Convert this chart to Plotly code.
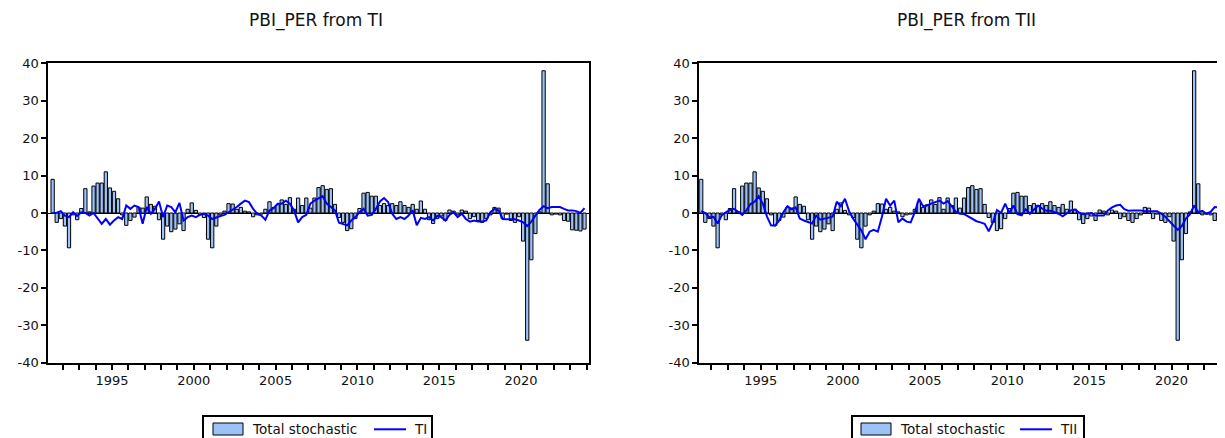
import plotly.graph_objects as go

# ---------------- data ----------------
start_year, start_q = 1991, 2
n_obs = 131
quarters = []
y, q = start_year, start_q
for _ in range(n_obs):
    quarters.append(f"{y}Q{q}")
    q += 1
    if q > 4:
        q = 1
        y += 1

total_stochastic = [
    9.0, -2.5, -1.5, -3.5, -9.3, -0.5, -1.8, 1.2, 6.5, 0.3,
    7.2, 8.0, 8.0, 11.0, 6.7, 5.8, 3.8, -0.5, -3.3, -2.0,
    -1.1, 1.5, 1.3, 4.3, 2.3, 1.8, -1.8, -7.0, -3.5, -5.0,
    -4.3, -2.9, -4.7, 1.0, 2.7, 0.7, -0.5, -1.2, -7.0, -9.3,
    -3.5, -0.5, 0.5, 2.5, 2.4, 1.0, 1.5, 0.5, 0.3, -1.0,
    -0.5, -0.3, 1.0, 3.0, 1.5, 2.2, 3.5, 2.3, 4.1, 1.0,
    4.0, 2.0, 4.0, 1.3, 4.0, 6.8, 7.3, 6.3, 6.5, 2.3,
    -1.2, -2.5, -4.7, -4.2, -1.5, 1.2, 5.3, 5.5, 4.5, 4.5,
    2.0, 2.5, 2.0, 2.5, 2.0, 3.0, 2.0, 1.5, 2.3, 1.0,
    3.2, 1.0, -1.8, -2.8, -1.5, -0.8, -2.0, 0.8, 0.5, -0.5,
    0.8, 0.5, -1.5, -1.0, -2.0, -2.5, -1.5, -0.5, 1.5, 1.3,
    -1.5, -0.3, -2.0, -2.5, -1.0, -7.5, -34.0, -12.5, -5.5, 0.3,
    38.0, 7.8, -0.5, -0.3, -0.5, -2.0, -2.2, -4.5, -4.6, -4.8,
    -4.3,
]

ti = [
    0.0, 0.1, 0.5, -0.7, -1.1, 0.2, -0.8, 0.2, 0.0, -0.7,
    0.0, -1.4, -2.9, -1.6, -3.1, -2.0, -1.1, -1.6, 2.0, 1.1,
    2.0, 1.6, -2.9, 1.6, -0.2, 1.1, 3.1, -1.1, 2.0, 1.6,
    0.2, 2.7, -2.0, -1.1, -0.7, -1.1, -0.5, -0.2, -0.7, -1.6,
    -1.1, -0.8, -0.5, 0.2, 0.8, 1.6, 2.5, 3.3, 2.9, 1.1,
    -0.2, -0.7, -1.8, 0.7, 1.3, 2.5, 2.5, 3.3, 2.5, 0.7,
    -2.5, -1.1, -0.5, 2.5, 3.3, 4.0, 4.5, 2.5, 1.6, 0.7,
    -2.6, -2.9, -3.3, -2.0, -1.1, 0.2, 1.1, -0.7, -0.5, 1.1,
    3.1, 4.0, 2.9, -0.2, -1.6, -1.1, -1.6, -0.7, 0.7, -3.3,
    -1.3, -1.6, -1.1, -2.0, -0.8, -1.1, -2.0, -0.5, 0.2, -1.1,
    -0.2, -1.6, -2.3, -2.0, -2.3, -2.3, -2.0, 0.2, 1.1, 0.7,
    -1.6, -1.7, -1.6, -1.7, -2.0, -2.5, -3.5, -2.3, -0.7, 0.8,
    1.8, 1.3, 1.6, 1.6, 1.6, 1.1, 0.7, 0.7, 0.5, 0.0,
    1.3,
]

tii = [
    0.5, 0.0, -1.2, -1.0, -2.8, -0.6, 0.2, 0.8, 1.1, 0.3,
    -0.5, 0.7, 2.4, 3.0, 4.5, 2.5, -0.9, -3.3, -3.4, -2.0,
    0.2, 1.8, 1.0, 1.5, -1.5, -2.0, -2.4, -2.8, -0.7, -1.8,
    -1.5, -1.3, -1.0, 3.0, 1.8, 3.8, 0.5, -1.5, -3.0, -4.7,
    -7.0, -5.0, -4.5, -5.0, -1.0, 3.8, 2.0, 3.3, -2.5, -1.5,
    -2.3, -2.5, 0.2, 3.8, 1.8, 2.0, 2.5, 2.9, 3.3, 2.5,
    3.2, 1.8, 0.3, -0.2, -0.3, -0.9, -1.5, -2.2, -2.5, -2.9,
    -4.9, -2.5, 0.8, 0.0, 2.5, 0.0, 2.0, -0.3, -0.6, 1.0,
    -0.2, 1.0, 2.0, 1.2, 0.6, 0.6, 0.2, -0.2, -0.9, 0.0,
    0.7, 0.9, 0.1, -0.3, -0.1, 0.0, -0.7, -0.7, -0.7, 0.7,
    1.5, 2.0, 2.2, 1.0, 0.6, 0.7, 0.8, 0.7, 0.5, 0.5,
    0.5, 0.5, -0.2, -1.0, -2.2, -3.5, -4.5, -3.5, -1.5, -0.3,
    2.0, 0.2, 0.6, -0.2, 0.3, 1.6, 1.6, 1.4, 0.8, 0.5,
    0.5,
]

titles = ["PBI_PER from TI", "PBI_PER from TII"]
line_names = ["TI", "TII"]
bar_name = "Total stochastic"
y_ticks = [-40, -30, -20, -10, 0, 10, 20, 30, 40]

# quarter labels -> numeric time (centre of the quarter)
def q_to_num(lbl):
    yr, qq = lbl.split("Q")
    return int(yr) + (int(qq) - 1) * 0.25 + 0.125

x_num = [q_to_num(s) for s in quarters]

# ---------------- figure ----------------
W, H = 1225, 438
OFF = 8  # page body margin in the rendered html
BAR_FILL = "#9CC2F7"
LINE_BLUE = "#0000FF"
FONT = "DejaVu Sans"
TXT = "#111111"

fig = go.Figure()

for k, (line_vals, lname) in enumerate([(ti, line_names[0]), (tii, line_names[1])]):
    xa = "x" if k == 0 else "x2"
    ya = "y" if k == 0 else "y2"
    fig.add_trace(go.Bar(
        x=x_num, y=total_stochastic, name=bar_name,
        xaxis=xa, yaxis=ya, showlegend=False,
        width=0.2,
        marker=dict(color=BAR_FILL, line=dict(color="#000000", width=1)),
    ))
    fig.add_trace(go.Scatter(
        x=x_num, y=line_vals, name=lname, mode="lines",
        xaxis=xa, yaxis=ya, showlegend=False,
        line=dict(color=LINE_BLUE, width=2),
    ))

def px_x(p):
    return (p - OFF) / W

def px_y(p):
    return 1 - (p - OFF) / H

y_dom = [px_y(362.7), px_y(63.3)]

common_x = dict(
    showgrid=False, zeroline=False,
    showline=True, linecolor="#000000", linewidth=2,
    ticks="outside", ticklen=5, tickwidth=2, tickcolor="#000000",
    tickmode="linear", tick0=1995, dtick=5,
    minor=dict(ticks="outside", ticklen=5, tickwidth=2, tickcolor="#000000",
               tickmode="linear", tick0=1991, dtick=1),
    tickfont=dict(family=FONT, size=13, color=TXT),
    fixedrange=True,
)
common_y = dict(
    showgrid=False,
    zeroline=True, zerolinecolor="#000000", zerolinewidth=1,
    showline=True, linecolor="#000000", linewidth=2,
    ticks="outside", ticklen=5, tickwidth=2, tickcolor="#000000",
    tickmode="array", tickvals=y_ticks, ticktext=[str(v) for v in y_ticks],
    range=[-40, 40],
    tickfont=dict(family=FONT, size=13, color=TXT),
    fixedrange=True,
)

# ---- legends (drawn as boxes + text under each panel) ----
legend_specs = [
    # box_left, box_right, swatch_left, text_left, line_left, line_text_left, line label
    (203, 432, 213, 250, 374, 412, line_names[0]),
    (852, 1084, 861, 898, 1020, 1058, line_names[1]),
]
shapes = []
annotations = []
for (bl, br, sl, tl, ll, ltl, lname) in legend_specs:
    shapes.append(dict(type="rect", xref="paper", yref="paper",
                       x0=px_x(bl), x1=px_x(br), y0=px_y(460), y1=px_y(416),
                       line=dict(color="#000000", width=2), fillcolor="white",
                       layer="below"))
    shapes.append(dict(type="rect", xref="paper", yref="paper",
                       x0=px_x(sl), x1=px_x(sl + 30), y0=px_y(435), y1=px_y(423),
                       line=dict(color="#000000", width=1), fillcolor=BAR_FILL))
    shapes.append(dict(type="line", xref="paper", yref="paper",
                       x0=px_x(ll), x1=px_x(ll + 32), y0=px_y(429.3), y1=px_y(429.3),
                       line=dict(color=LINE_BLUE, width=2)))
    annotations.append(dict(text=bar_name, x=px_x(tl), y=px_y(429), xref="paper",
                            yref="paper", xanchor="left", yanchor="middle",
                            showarrow=False,
                            font=dict(family=FONT, size=13.5, color=TXT)))
    annotations.append(dict(text=lname, x=px_x(ltl), y=px_y(429), xref="paper",
                            yref="paper", xanchor="left", yanchor="middle",
                            showarrow=False,
                            font=dict(family=FONT, size=13.5, color=TXT)))

for title, cx in zip(titles, [316, 966]):
    annotations.append(dict(text=title, x=px_x(cx), y=px_y(20), xref="paper",
                            yref="paper", xanchor="center", yanchor="middle",
                            showarrow=False,
                            font=dict(family=FONT, size=17, color=TXT)))

fig.update_layout(
    width=W, height=H,
    margin=dict(l=0, r=0, t=0, b=0, autoexpand=False),
    paper_bgcolor="white", plot_bgcolor="white",
    barmode="overlay",
    showlegend=False,
    xaxis=dict(common_x, domain=[px_x(48.3), px_x(589)], range=[1991.11, 2024.15],
               mirror=True, anchor="y"),
    yaxis=dict(common_y, domain=y_dom, mirror=True, anchor="x"),
    xaxis2=dict(common_x, domain=[px_x(699.3), 1.0], range=[1991.26, 2023.74],
                mirror=True, anchor="y2"),
    yaxis2=dict(common_y, domain=y_dom, mirror=True, anchor="x2"),
    shapes=shapes,
    annotations=annotations,
)

fig.write_html("out.html")
